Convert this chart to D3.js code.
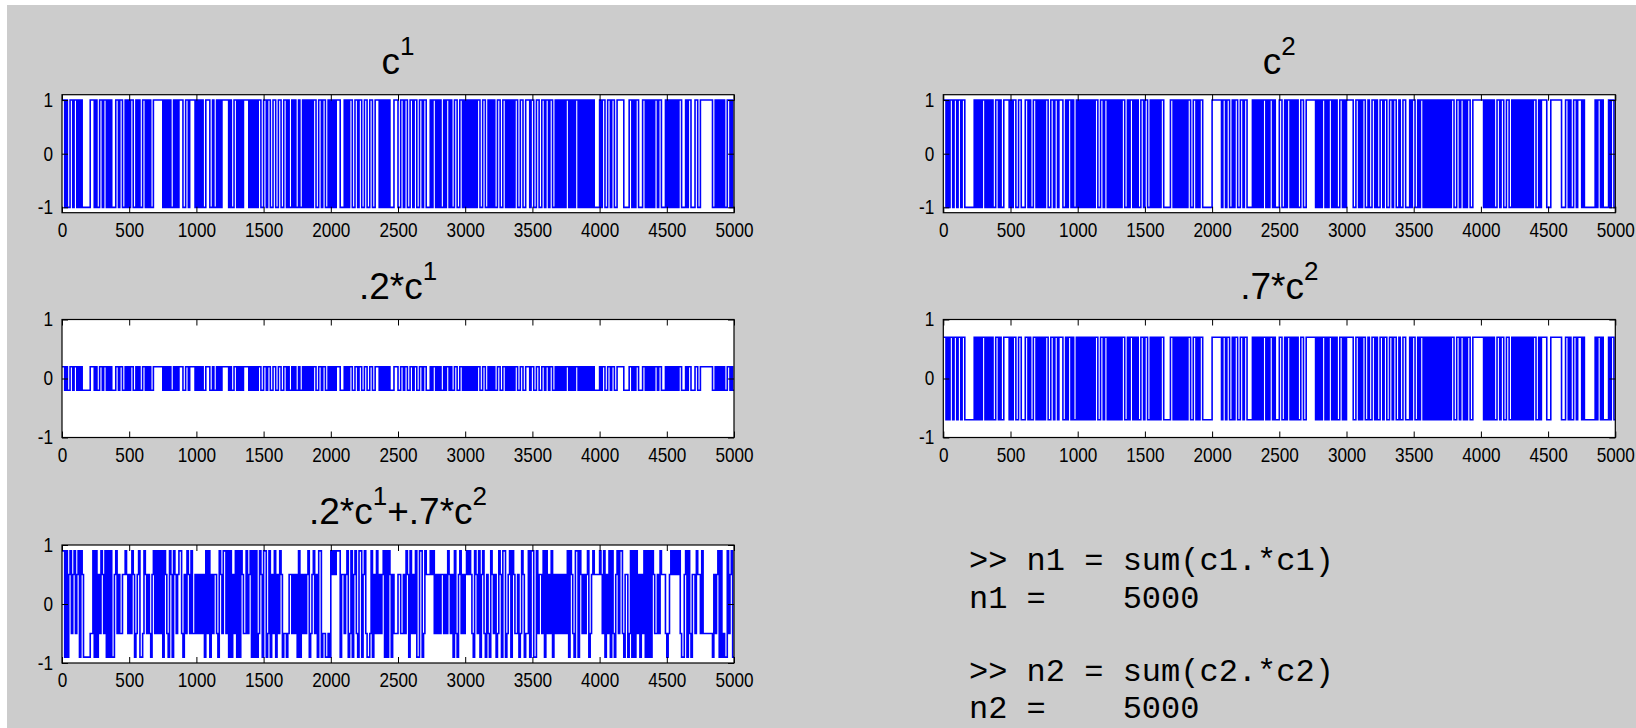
<!DOCTYPE html>
<html>
<head>
<meta charset="utf-8">
<script src="https://cdn.jsdelivr.net/npm/d3@7"></script>
<style>
  html, body { margin: 0; padding: 0; background: #ffffff; }
  svg { display: block; }
</style>
</head>
<body>
<svg id="chart" width="1636" height="728"></svg>
<script>
// ---------------- DATA ----------------
// Samples per chip (each chip is a run of identical samples)
const chipLength = 10;
const sampleCount = 5000;
// c1 chips, 50 chips (500 samples) per segment; "1" = +1, "0" = -1
const c1Chips = [
  "11010011011010100000011101001101101010001101100" + "1010",
  "01100101001101010011111110101010010101110011011110" ,
  "10101001110010010101111101001101010111101010101100",
  "11011001100110011010010100100101010101100110110010",
  "10101110001010110011011001100110011101010101000111111",
  "00110110011011001101100010110101001011010011001101",
  "01010101011001100101010011001101010101100110011101010",
  "10011001101101100101010101101010110101010101010",
  "10110011011001111100001101011000110101010110110001 0",
  "01010101011000101100011001111111110010101010011010"
];
const c2Chips = [
  "11010110110110110000000101010110101010011010011110 1",
  "10110011000110100110101010110011011011100101101001",
  "01010101010101100110110101010101011001011010100110 11",
  "11001010101011000001101010101010110011010110000000",
  "11111110110110010110011011000010101010110101101 00",
  "11001011010101001100111111101010110101101010011010",
  "11111001101011001001101001101100110110010011000101",
  "10010110101010101010101010101100110110101100111111 0010",
  "11010101010011011001100101010101010101011001011110 11",
  "00111111110001101001101110100000000101101000010110 1"
];
// Mixing weights shown in the titles
const weights = [0.2, 0.7];
const xTicks = [0, 500, 1000, 1500, 2000, 2500, 3000, 3500, 4000, 4500, 5000];
const yTicks = [-1, 0, 1];
const codeLines = [">> n1 = sum(c1.*c1)", "n1 =    5000", "", ">> n2 = sum(c2.*c2)", "n2 =    5000"];

// ---------------- BUILD SERIES ----------------
function decode(segs) {
  const out = [];
  segs.forEach(s => {
    let t = s.replace(/[^01]/g, "");
    if (t.length > 50) t = t.slice(0, 50);
    while (t.length < 50) t += t[t.length - 1];
    for (const ch of t) out.push(ch === "1" ? 1 : -1);
  });
  return out;
}
const c1 = decode(c1Chips);
const c2 = decode(c2Chips);
const s1 = c1.map(v => weights[0] * v);
const s2 = c2.map(v => weights[1] * v);
const s12 = c1.map((v, i) => weights[0] * v + weights[1] * c2[i]);

function toPoints(vals) {
  const pts = vals.map((v, k) => [k * chipLength, v]);
  pts.push([sampleCount, vals[vals.length - 1]]);
  return pts;
}

// ---------------- LAYOUT ----------------
const svg = d3.select("#chart");
svg.append("rect").attr("x", 0).attr("y", 0).attr("width", 1636).attr("height", 728).attr("fill", "#ffffff");
svg.append("rect").attr("x", 7).attr("y", 5).attr("width", 1636 - 7).attr("height", 728 - 5).attr("fill", "#cccccc");

const cols = [[62, 734], [943.3, 1615.3]];
const rows = [[94.7, 212.7], [319.5, 437.5], [545, 663]];

const panels = [
  { col: 0, row: 0, data: c1, ydom: [-1.1, 1.1], title: [["c", 0], ["1", 1]] },
  { col: 1, row: 0, data: c2, ydom: [-1.1, 1.1], title: [["c", 0], ["2", 1]] },
  { col: 0, row: 1, data: s1, ydom: [-1, 1], title: [[".2*c", 0], ["1", 1]] },
  { col: 1, row: 1, data: s2, ydom: [-1, 1], title: [[".7*c", 0], ["2", 1]] },
  { col: 0, row: 2, data: s12, ydom: [-1, 1], title: [[".2*c", 0], ["1", 1], ["+.7*c", 0], ["2", 1]] }
];

const labelFont = "'Liberation Sans', Arial, Helvetica, sans-serif";
const squeezeF = 0.86;

panels.forEach((p, idx) => {
  const [x0, x1] = cols[p.col];
  const [y0, y1] = rows[p.row];
  const x = d3.scaleLinear().domain([0, sampleCount]).range([x0, x1]);
  const y = d3.scaleLinear().domain(p.ydom).range([y1, y0]);
  const g = svg.append("g");

  g.append("rect").attr("x", x0).attr("y", y0).attr("width", x1 - x0).attr("height", y1 - y0).attr("fill", "#ffffff");

  const clipId = "clip" + idx;
  svg.append("clipPath").attr("id", clipId).append("rect")
    .attr("x", x0).attr("y", y0).attr("width", x1 - x0).attr("height", y1 - y0);

  const line = d3.line().x(d => x(d[0])).y(d => y(d[1])).curve(d3.curveStepAfter);
  g.append("path")
    .attr("d", line(toPoints(p.data)))
    .attr("fill", "none")
    .attr("stroke", "#0000ff")
    .attr("stroke-width", 1.6)
    .attr("stroke-linejoin", "miter")
    .attr("clip-path", `url(#${clipId})`);

  // axes (ticks inward, mirrored)
  const ab = g.append("g").attr("transform", `translate(0,${y1})`)
    .call(d3.axisBottom(x).tickValues(xTicks).tickSizeInner(-6).tickSizeOuter(0).tickPadding(10).tickFormat(d => String(d)));
  const at = g.append("g").attr("transform", `translate(0,${y0})`)
    .call(d3.axisTop(x).tickValues(xTicks).tickSizeInner(-6).tickSizeOuter(0).tickFormat(""));
  const al = g.append("g").attr("transform", `translate(${x0},0)`)
    .call(d3.axisLeft(y).tickValues(yTicks).tickSizeInner(-6).tickSizeOuter(0).tickPadding(9).tickFormat(d => String(d)));
  const ar = g.append("g").attr("transform", `translate(${x1},0)`)
    .call(d3.axisRight(y).tickValues(yTicks).tickSizeInner(-6).tickSizeOuter(0).tickFormat(""));
  [ab, at, al, ar].forEach(a => {
    a.select(".domain").remove();
    a.selectAll("line").attr("stroke", "#000").attr("stroke-width", 1);
    a.selectAll("text").attr("fill", "#000").style("font-family", labelFont).style("font-size", "20px");
  });
  // horizontally condensed tick labels (as in the reference rendering)
  ab.selectAll("text").attr("transform", `scale(${squeezeF},1)`);
  al.selectAll("text").attr("x", -9 / squeezeF).attr("transform", `scale(${squeezeF},1)`);

  g.append("rect").attr("x", x0).attr("y", y0).attr("width", x1 - x0).attr("height", y1 - y0)
    .attr("fill", "none").attr("stroke", "#000").attr("stroke-width", 1.2);

  // title with superscripts
  const t = g.append("text")
    .attr("x", (x0 + x1) / 2)
    .attr("y", y0 - 20.7)
    .attr("text-anchor", "middle")
    .style("font-family", labelFont)
    .style("font-size", "37px")
    .attr("fill", "#000");
  let raised = false;
  p.title.forEach(([s, sup]) => {
    const ts = t.append("tspan").text(s);
    if (sup && !raised) { ts.attr("dy", -19).style("font-size", "26px"); raised = true; }
    else if (!sup && raised) { ts.attr("dy", 19); raised = false; }
  });
});

// command window text
const code = svg.append("g")
  .style("font-family", "'Liberation Mono', 'Courier New', monospace")
  .style("font-size", "32px")
  .attr("fill", "#000");
const codeY = [570, 607.5, 645, 681, 717.5];
codeLines.forEach((s, i) => {
  code.append("text").attr("x", 969).attr("y", codeY[i]).attr("xml:space", "preserve").style("white-space", "pre").text(s);
});
</script>
</body>
</html>
